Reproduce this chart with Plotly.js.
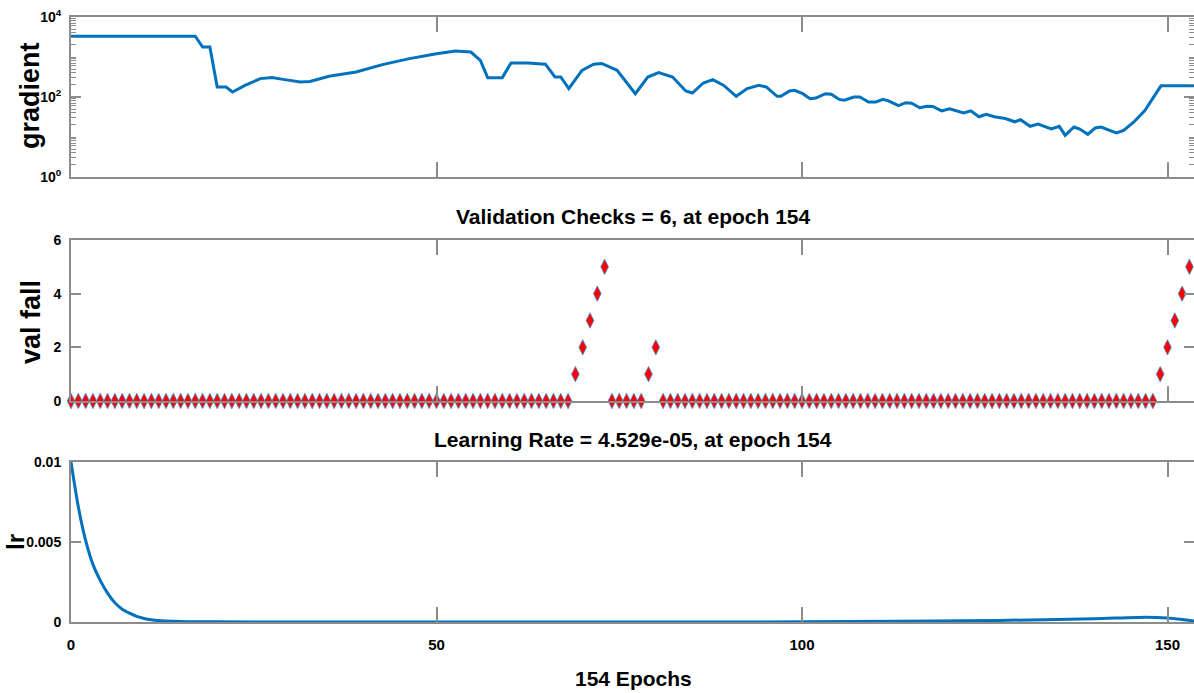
<!DOCTYPE html>
<html>
<head>
<meta charset="utf-8">
<script src="https://cdn.plot.ly/plotly-3.0.1.min.js"></script>
<style>html,body{margin:0;padding:0;background:#fff;}#chart{width:1194px;height:693px;}</style>
</head>
<body>
<div id="chart"></div>
<script>
// ---- data ----
const gradEpoch = [0, 17, 18, 19, 20, 21.2, 22.1, 23.8, 25.9, 27.5,
  29, 31.4, 32.7, 35.3, 39, 42.6, 46.3, 50, 52.6, 54.7,
  56, 57, 59, 60.2, 62.5, 64.9, 66.2, 67, 68.1, 69.9,
  71.5, 72.6, 74.7, 77.2, 78.9, 80.4, 82.3, 84.1, 85, 86.5,
  87.8, 89.3, 91, 92.5, 94.1, 95.1, 96.6, 97.1, 98.3, 99,
  100.1, 101.1, 101.9, 103.2, 104, 105.1, 105.8, 107.1, 107.9, 109.1,
  110.1, 111.1, 111.9, 113.2, 114.2, 115, 116.1, 117.1, 117.9, 119.1,
  120.2, 122.1, 123.1, 124.2, 125.2, 126.3, 127.8, 129.1, 129.9, 131.2,
  132.3, 134.1, 135.2, 136, 137.2, 138, 139.1, 140.1, 140.9, 142,
  143, 144, 145.4, 146.9, 148, 149.1, 154];
const gradValue = [3310, 3310, 1780, 1780, 178, 178, 133, 195, 288, 305,
  276, 237, 245, 329, 422, 646, 910, 1210, 1410, 1330,
  820, 305, 305, 710, 710, 660, 316, 316, 162, 464,
  660, 690, 464, 121, 316, 407, 316, 141, 126, 224,
  271, 195, 104, 162, 195, 178, 104, 104, 141, 147,
  121, 91, 94, 121, 117, 87, 83, 100, 100, 75,
  75, 87, 79, 61, 72, 70, 54, 59, 58, 45,
  51, 40, 45, 32, 37, 32, 29, 24, 27, 18.5,
  21, 16, 18.5, 11, 17.8, 15.8, 11.7, 16.8, 17.8, 14.7,
  12.6, 14.7, 23.7, 46, 91, 190, 190];

const valEpoch = [
  0,1,2,3,4,5,6,7,8,9,10,11,12,13,14,15,16,17,18,19,20,21,22,23,24,25,26,27,28,29,
  30,31,32,33,34,35,36,37,38,39,40,41,42,43,44,45,46,47,48,49,50,51,52,53,54,55,56,57,58,59,
  60,61,62,63,64,65,66,67,68,69,70,71,72,73,74,75,76,77,78,79,80,81,82,83,84,85,86,87,88,89,
  90,91,92,93,94,95,96,97,98,99,100,101,102,103,104,105,106,107,108,109,110,111,112,113,114,115,116,117,118,119,
  120,121,122,123,124,125,126,127,128,129,130,131,132,133,134,135,136,137,138,139,140,141,142,143,144,145,146,147,148,149,
  150,151,152,153,154];
const valFail = [
  0,0,0,0,0,0,0,0,0,0,0,0,0,0,0,0,0,0,0,0,0,0,0,0,0,0,0,0,0,0,
  0,0,0,0,0,0,0,0,0,0,0,0,0,0,0,0,0,0,0,0,0,0,0,0,0,0,0,0,0,0,
  0,0,0,0,0,0,0,0,0,1,2,3,4,5,0,0,0,0,0,1,2,0,0,0,0,0,0,0,0,0,
  0,0,0,0,0,0,0,0,0,0,0,0,0,0,0,0,0,0,0,0,0,0,0,0,0,0,0,0,0,0,
  0,0,0,0,0,0,0,0,0,0,0,0,0,0,0,0,0,0,0,0,0,0,0,0,0,0,0,0,0,1,
  2,3,4,5,6];

const lrEpoch = [0, 1, 2, 3, 4, 5, 6, 7, 8, 9, 10, 11, 12, 14, 16, 20, 30, 60, 100, 127, 140, 147, 150, 154];
const lrValue = [0.01, 0.0072, 0.0051, 0.0036, 0.0026, 0.0018, 0.0012, 0.0008, 0.00055, 0.00035,
  0.00022, 0.00014, 0.00009, 0.00004, 0.00002, 0.00001, 0.000003, 0.000002, 0.00001, 0.0001,
  0.0002, 0.0003, 0.00025, 0.0000453];

const xTicks = [0, 50, 100, 150];
const xTickText = ['0', '50', '100', '150'];
const gradTicks = [1, 100, 10000];
const gradTickText = ['10<sup>0</sup>', '10<sup>2</sup>', '10<sup>4</sup>'];
const valTicks = [0, 2, 4, 6];
const valTickText = ['0', '2', '4', '6'];
const lrTicks = [0, 0.005, 0.01];
const lrTickText = ['0', '0.005', '0.01'];

const titleVal = 'Validation Checks = 6, at epoch 154';
const titleLr = 'Learning Rate = 4.529e-05, at epoch 154';
const xTitle = '154 Epochs';
const yTitles = ['gradient', 'val fall', 'lr'];

// ---- styles ----
const W = 1194, H = 693, L = 71;
const FONT = '"Liberation Sans", Arial, sans-serif';
const BLUE = '#0072BD';
const AX = '#8c8c8c';
const px2x = p => (p - L) / (W - L);
const px2y = p => 1 - p / H;
const xMax = (W - L) / 7.31;

function xAxis(anchor, labels) {
  return {
    anchor: anchor, domain: [0, 1], range: [0, xMax],
    tickmode: 'array', tickvals: xTicks, ticktext: xTickText,
    showticklabels: labels, ticks: 'inside', ticklen: 15, tickwidth: 2, tickcolor: AX,
    showline: true, linecolor: AX, linewidth: 2, mirror: 'ticks',
    showgrid: false, zeroline: false, ticklabelstandoff: 8,
    tickfont: {family: FONT, size: 15, color: '#000', weight: 'bold'}
  };
}
function yAxis(anchor, dom, extra) {
  return Object.assign({
    anchor: anchor, domain: dom,
    ticks: 'inside', ticklen: 10, tickwidth: 2, tickcolor: AX,
    showline: true, linecolor: AX, linewidth: 2, mirror: 'ticks',
    showgrid: false, zeroline: false, ticklabelstandoff: 5,
    tickfont: {family: FONT, size: 14, color: '#000', weight: 'bold'}
  }, extra);
}

const traces = [
  {x: gradEpoch, y: gradValue, xaxis: 'x', yaxis: 'y', mode: 'lines',
   line: {color: BLUE, width: 3}, hoverinfo: 'skip'},
  {x: valEpoch, y: valFail, xaxis: 'x2', yaxis: 'y2', mode: 'markers', cliponaxis: false,
   marker: {symbol: 'diamond-tall', size: 11, color: '#ff0000', line: {color: '#3d8fd6', width: 0.8}},
   hoverinfo: 'skip'},
  {x: lrEpoch, y: lrValue, xaxis: 'x3', yaxis: 'y3', mode: 'lines',
   line: {color: BLUE, width: 3, shape: 'spline', smoothing: 0.6}, hoverinfo: 'skip'}
];

const titleFont = {family: FONT, size: 21, color: '#000', weight: 'bold'};
const layout = {
  width: W, height: H, showlegend: false,
  margin: {l: L, r: 0, t: 0, b: 0},
  paper_bgcolor: '#fff', plot_bgcolor: '#fff',
  xaxis: xAxis('y', false),
  xaxis2: xAxis('y2', false),
  xaxis3: xAxis('y3', true),
  yaxis: yAxis('x', [px2y(177), px2y(17)], {
    type: 'log', range: [0, 4], tickmode: 'array', tickvals: gradTicks, ticktext: gradTickText,
    minor: {ticks: 'inside', ticklen: 5, tickwidth: 1, tickcolor: AX, dtick: 'D1'}
  }),
  yaxis2: yAxis('x2', [px2y(401), px2y(240)], {
    range: [0, 6], tickmode: 'array', tickvals: valTicks, ticktext: valTickText
  }),
  yaxis3: yAxis('x3', [px2y(622), px2y(462)], {
    range: [0, 0.01], tickmode: 'array', tickvals: lrTicks, ticktext: lrTickText
  }),
  annotations: [
    {text: titleVal, xref: 'paper', yref: 'paper', x: px2x(633), y: px2y(216), xanchor: 'center', yanchor: 'middle',
     showarrow: false, font: titleFont},
    {text: titleLr, xref: 'paper', yref: 'paper', x: px2x(633), y: px2y(439), xanchor: 'center', yanchor: 'middle',
     showarrow: false, font: titleFont},
    {text: xTitle, xref: 'paper', yref: 'paper', x: px2x(633), y: px2y(678), xanchor: 'center', yanchor: 'middle',
     showarrow: false, font: titleFont},
    {text: yTitles[0], xref: 'paper', yref: 'paper', x: px2x(30), y: px2y(96), xanchor: 'center', yanchor: 'middle',
     textangle: -90, showarrow: false, font: {family: FONT, size: 27, color: '#000', weight: 'bold'}},
    {text: yTitles[1], xref: 'paper', yref: 'paper', x: px2x(31), y: px2y(322), xanchor: 'center', yanchor: 'middle',
     textangle: -90, showarrow: false, font: {family: FONT, size: 27, color: '#000', weight: 'bold'}},
    {text: yTitles[2], xref: 'paper', yref: 'paper', x: px2x(15), y: px2y(542), xanchor: 'center', yanchor: 'middle',
     textangle: -90, showarrow: false, font: {family: FONT, size: 24, color: '#000', weight: 'bold'}}
  ]
};

Plotly.newPlot('chart', traces, layout, {staticPlot: true, displayModeBar: false});
</script>
</body>
</html>
